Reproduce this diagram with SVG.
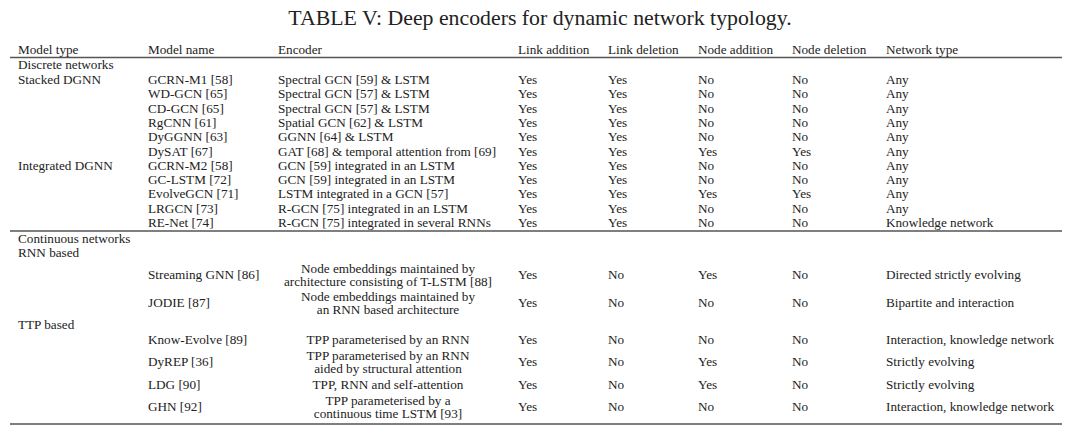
<svg xmlns="http://www.w3.org/2000/svg" width="1080" height="431" viewBox="0 0 1080 431">
<style>
text{font-family:"Liberation Serif","Times New Roman",serif;font-size:13.2px;fill:#222}
.title{font-size:21.8px;text-anchor:middle}
.c{text-anchor:middle}
.rule{stroke:#555;stroke-width:1.3}
</style>
<rect width="1080" height="431" fill="#fff"/>
<text class="title" x="540" y="25">TABLE V: Deep encoders for dynamic network typology.</text>
<g id="rules">
<line class="rule" x1="10" y1="57.5" x2="1062" y2="57.5"/>
<line class="rule" x1="10" y1="231" x2="1062" y2="231"/>
<line class="rule" x1="10" y1="424" x2="1062" y2="424"/>
</g>
<g id="header">
<text x="18" y="54">Model type</text><text x="148" y="54">Model name</text><text x="278" y="54">Encoder</text>
<text x="518" y="54">Link addition</text><text x="608" y="54">Link deletion</text><text x="698" y="54">Node addition</text><text x="792" y="54">Node deletion</text><text x="886" y="54">Network type</text>
</g>
<g id="discrete">
<text x="18" y="69">Discrete networks</text>
<text x="18" y="84">Stacked DGNN</text>
<text x="18" y="169.8">Integrated DGNN</text>
<g id="r1"><text x="148" y="84">GCRN-M1 [58]</text><text x="278" y="84">Spectral GCN [59] &amp; LSTM</text><text x="518" y="84">Yes</text><text x="608" y="84">Yes</text><text x="698" y="84">No</text><text x="792" y="84">No</text><text x="886" y="84">Any</text></g>
<g id="r2"><text x="148" y="98.3">WD-GCN [65]</text><text x="278" y="98.3">Spectral GCN [57] &amp; LSTM</text><text x="518" y="98.3">Yes</text><text x="608" y="98.3">Yes</text><text x="698" y="98.3">No</text><text x="792" y="98.3">No</text><text x="886" y="98.3">Any</text></g>
<g id="r3"><text x="148" y="112.6">CD-GCN [65]</text><text x="278" y="112.6">Spectral GCN [57] &amp; LSTM</text><text x="518" y="112.6">Yes</text><text x="608" y="112.6">Yes</text><text x="698" y="112.6">No</text><text x="792" y="112.6">No</text><text x="886" y="112.6">Any</text></g>
<g id="r4"><text x="148" y="126.9">RgCNN [61]</text><text x="278" y="126.9">Spatial GCN [62] &amp; LSTM</text><text x="518" y="126.9">Yes</text><text x="608" y="126.9">Yes</text><text x="698" y="126.9">No</text><text x="792" y="126.9">No</text><text x="886" y="126.9">Any</text></g>
<g id="r5"><text x="148" y="141.2">DyGGNN [63]</text><text x="278" y="141.2">GGNN [64] &amp; LSTM</text><text x="518" y="141.2">Yes</text><text x="608" y="141.2">Yes</text><text x="698" y="141.2">No</text><text x="792" y="141.2">No</text><text x="886" y="141.2">Any</text></g>
<g id="r6"><text x="148" y="155.5">DySAT [67]</text><text x="278" y="155.5">GAT [68] &amp; temporal attention from [69]</text><text x="518" y="155.5">Yes</text><text x="608" y="155.5">Yes</text><text x="698" y="155.5">Yes</text><text x="792" y="155.5">Yes</text><text x="886" y="155.5">Any</text></g>
<g id="r7"><text x="148" y="169.8">GCRN-M2 [58]</text><text x="278" y="169.8">GCN [59] integrated in an LSTM</text><text x="518" y="169.8">Yes</text><text x="608" y="169.8">Yes</text><text x="698" y="169.8">No</text><text x="792" y="169.8">No</text><text x="886" y="169.8">Any</text></g>
<g id="r8"><text x="148" y="184.1">GC-LSTM [72]</text><text x="278" y="184.1">GCN [59] integrated in an LSTM</text><text x="518" y="184.1">Yes</text><text x="608" y="184.1">Yes</text><text x="698" y="184.1">No</text><text x="792" y="184.1">No</text><text x="886" y="184.1">Any</text></g>
<g id="r9"><text x="148" y="198.4">EvolveGCN [71]</text><text x="278" y="198.4">LSTM integrated in a GCN [57]</text><text x="518" y="198.4">Yes</text><text x="608" y="198.4">Yes</text><text x="698" y="198.4">Yes</text><text x="792" y="198.4">Yes</text><text x="886" y="198.4">Any</text></g>
<g id="r10"><text x="148" y="212.7">LRGCN [73]</text><text x="278" y="212.7">R-GCN [75] integrated in an LSTM</text><text x="518" y="212.7">Yes</text><text x="608" y="212.7">Yes</text><text x="698" y="212.7">No</text><text x="792" y="212.7">No</text><text x="886" y="212.7">Any</text></g>
<g id="r11"><text x="148" y="227">RE-Net [74]</text><text x="278" y="227">R-GCN [75] integrated in several RNNs</text><text x="518" y="227">Yes</text><text x="608" y="227">Yes</text><text x="698" y="227">No</text><text x="792" y="227">No</text><text x="886" y="227">Knowledge network</text></g>
</g>
<g id="continuous">
<text x="18" y="243">Continuous networks</text>
<text x="18" y="257">RNN based</text>
<g id="r12"><text x="148" y="279">Streaming GNN [86]</text><text class="c" x="388" y="272.5">Node embeddings maintained by</text><text class="c" x="388" y="285.5">architecture consisting of T-LSTM [88]</text><text x="518" y="279">Yes</text><text x="608" y="279">No</text><text x="698" y="279">Yes</text><text x="792" y="279">No</text><text x="886" y="279">Directed strictly evolving</text></g>
<g id="r13"><text x="148" y="307">JODIE [87]</text><text class="c" x="388" y="300.5">Node embeddings maintained by</text><text class="c" x="388" y="313.5">an RNN based architecture</text><text x="518" y="307">Yes</text><text x="608" y="307">No</text><text x="698" y="307">No</text><text x="792" y="307">No</text><text x="886" y="307">Bipartite and interaction</text></g>
<text x="18" y="329">TTP based</text>
<g id="r14"><text x="148" y="344">Know-Evolve [89]</text><text class="c" x="388" y="344">TPP parameterised by an RNN</text><text x="518" y="344">Yes</text><text x="608" y="344">No</text><text x="698" y="344">No</text><text x="792" y="344">No</text><text x="886" y="344">Interaction, knowledge network</text></g>
<g id="r15"><text x="148" y="366">DyREP [36]</text><text class="c" x="388" y="359.5">TPP parameterised by an RNN</text><text class="c" x="388" y="372.5">aided by structural attention</text><text x="518" y="366">Yes</text><text x="608" y="366">No</text><text x="698" y="366">Yes</text><text x="792" y="366">No</text><text x="886" y="366">Strictly evolving</text></g>
<g id="r16"><text x="148" y="389">LDG [90]</text><text class="c" x="388" y="389">TPP, RNN and self-attention</text><text x="518" y="389">Yes</text><text x="608" y="389">No</text><text x="698" y="389">Yes</text><text x="792" y="389">No</text><text x="886" y="389">Strictly evolving</text></g>
<g id="r17"><text x="148" y="411">GHN [92]</text><text class="c" x="388" y="404.5">TPP parameterised by a</text><text class="c" x="388" y="417.5">continuous time LSTM [93]</text><text x="518" y="411">Yes</text><text x="608" y="411">No</text><text x="698" y="411">No</text><text x="792" y="411">No</text><text x="886" y="411">Interaction, knowledge network</text></g>
</g>
</svg>
